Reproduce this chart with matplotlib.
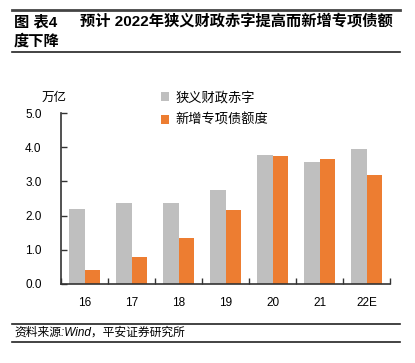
import numpy as np
import matplotlib
matplotlib.use("Agg")
import matplotlib.pyplot as plt
from matplotlib.lines import Line2D

plt.rcParams['font.family'] = ['Liberation Sans', 'Noto Sans CJK SC', 'DejaVu Sans']

# datos (万亿)
years = ["16", "17", "18", "19", "20", "21", "22E"]
deficit = [2.18, 2.38, 2.38, 2.76, 3.76, 3.57, 3.94]
special_bonds = [0.40, 0.80, 1.35, 2.15, 3.75, 3.65, 3.20]
yticks = [0.0, 1.0, 2.0, 3.0, 4.0, 5.0]

gray = "#BFBFBF"
orange = "#ED7D31"
cjk = ['Noto Sans CJK SC', 'DejaVu Sans']

W, H = 415, 363
fig = plt.figure(figsize=(W / 100, H / 100), dpi=100)

# ejes en pixeles: x 61..390, y 113..284
ax = fig.add_axes([61 / W, 1 - 284 / H, (390 - 61) / W, (284 - 113) / H])
x = np.arange(len(years))
bw = 0.33
ax.bar(x - bw / 2, deficit, bw, color=gray, label="狭义财政赤字")
ax.bar(x + bw / 2, special_bonds, bw, color=orange, label="新增专项债额度")

ax.set_xlim(-0.5, len(years) - 0.5)
ax.set_ylim(0, 5)
ax.set_yticks(yticks)
ax.set_yticklabels(["%.1f" % v for v in yticks], fontsize=8.5)
ax.set_xticks(x)
ax.set_xticklabels(years, fontsize=8.5)
ax.tick_params(axis='x', which='major', length=0, pad=9)
ax.set_xticks(np.arange(-0.5, len(years)), minor=True)
ax.tick_params(axis='x', which='minor', direction='in', length=4, width=1, color='#333333')
ax.tick_params(axis='y', direction='in', length=4, width=1, color='#333333', pad=14)
for s in ['top', 'right']:
    ax.spines[s].set_visible(False)
for s in ['left', 'bottom']:
    ax.spines[s].set_color('#333333')
    ax.spines[s].set_linewidth(1.2)

fig.text(42 / W, 1 - 97 / H, "万亿", fontsize=9, family=cjk, va='center')

leg = ax.legend(loc='upper left', bbox_to_anchor=(156 / W, 1 - 86 / H), bbox_transform=fig.transFigure,
                frameon=False, prop={'family': cjk, 'size': 9.5}, handlelength=0.6, handleheight=0.6,
                handletextpad=0.5, labelspacing=0.75, borderaxespad=0)

# titulo y lineas
tfam = ['Liberation Sans', 'Noto Sans CJK SC']
fig.add_artist(Line2D([12 / W, 400 / W], [1 - 9.5 / H] * 2, color='#444444', lw=2))
fig.add_artist(Line2D([12 / W, 400 / W], [1 - 52 / H] * 2, color='#222222', lw=1.2))
fig.text(14 / W, 1 - 26 / H, "图 表4", fontsize=11, weight='bold', family=tfam, va='baseline')
fig.text(80 / W, 1 - 26 / H, "预计 2022年狭义财政赤字提高而新增专项债额", fontsize=11, weight='bold',
         family=tfam, va='baseline')
fig.text(14 / W, 1 - 46 / H, "度下降", fontsize=11, weight='bold', family=cjk, va='baseline')

fig.add_artist(Line2D([12 / W, 400 / W], [1 - 324 / H] * 2, color='#222222', lw=1.2))
fig.add_artist(Line2D([12 / W, 400 / W], [1 - 342 / H] * 2, color='#222222', lw=1.2))
fig.text(14 / W, 1 - 333 / H, "资料来源:Wind，平安证券研究所", fontsize=8.5, style='italic',
         family=tfam, va='center')

fig.savefig("out.png", dpi=100)
